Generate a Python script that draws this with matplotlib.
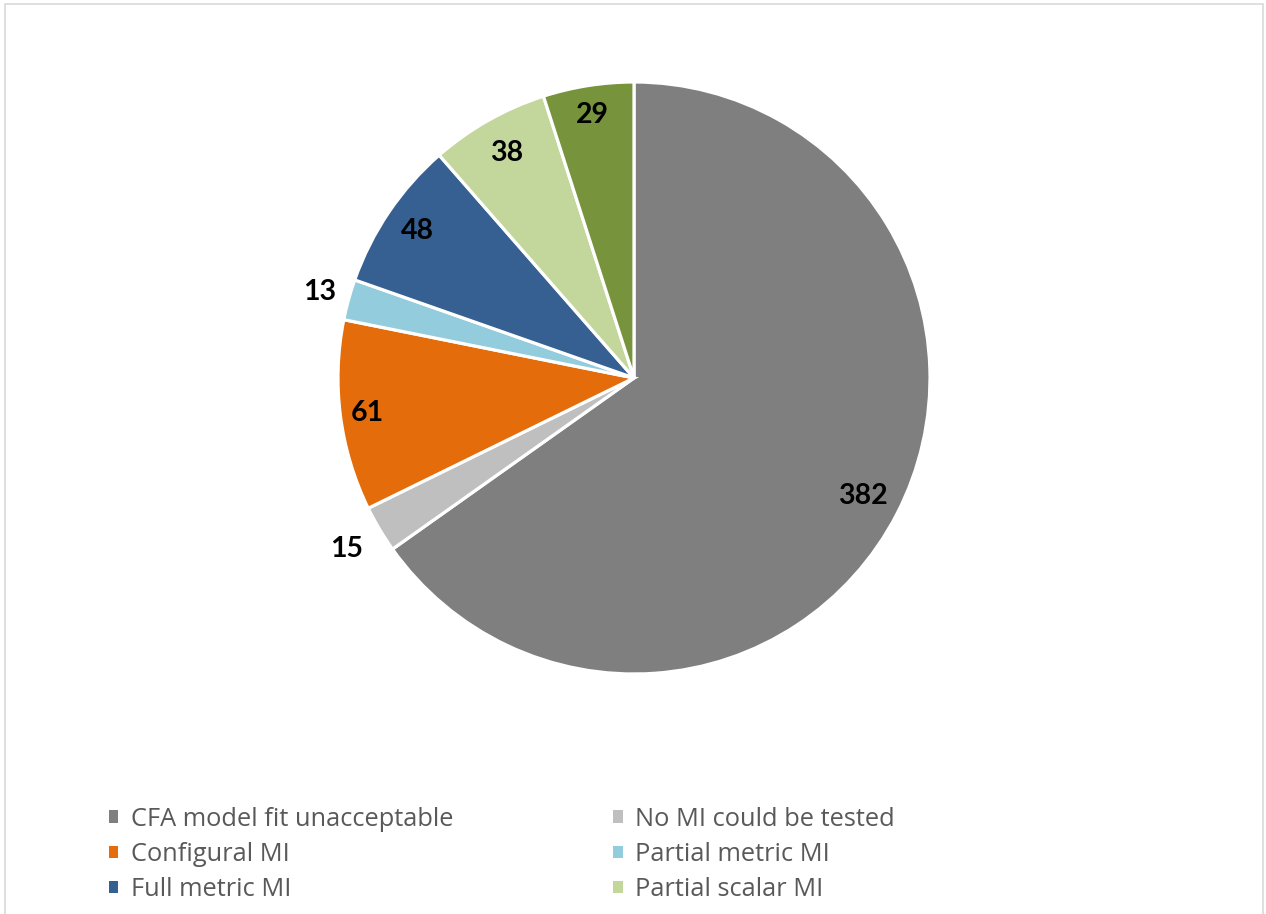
import numpy as np
import matplotlib
matplotlib.use("Agg")
import matplotlib.pyplot as plt
from matplotlib.patches import Patch, Rectangle

# Studies by measurement invariance outcome
categories = ["CFA model fit unacceptable", "No MI could be tested", "Configural MI",
              "Partial metric MI", "Full metric MI", "Partial scalar MI", "Full scalar MI"]
counts = [382, 15, 61, 13, 48, 38, 29]
colors = ["#7F7F7F", "#BFBFBF", "#E46C0A", "#93CDDD", "#366092", "#C3D69B", "#77933C"]
# how far out each count sits, as a share of the radius
label_dist = [0.87, 1.13, 0.91, 1.10, 0.885, 0.875, 0.90]

W, H = 1266, 914
fig = plt.figure(figsize=(W / 100, H / 100), dpi=100)
ax = fig.add_axes([0, 0, 1, 1])

cx, cy, r = 634, H - 378, 296
wedges, _ = ax.pie(counts, colors=colors, startangle=90, counterclock=False,
                   center=(cx, cy), radius=r,
                   wedgeprops=dict(edgecolor="white", linewidth=2.3))

for w, n, d in zip(wedges, counts, label_dist):
    mid = np.deg2rad((w.theta1 + w.theta2) / 2)
    ax.text(cx + d * r * np.cos(mid), cy + d * r * np.sin(mid), str(n),
            ha="center", va="center", fontsize=20.5, fontweight="bold",
            family="Lato", color="black")

ax.set_xlim(0, W)
ax.set_ylim(0, H)
ax.set_aspect("equal")
ax.axis("off")

# chart area border (bottom edge runs off the canvas)
fig.patches.append(Rectangle((5 / W, -0.05), (1263 - 5) / W, (H - 4) / H + 0.05,
                             transform=fig.transFigure, fill=False,
                             edgecolor="#D9D9D9", linewidth=1.2))

# legend filled row by row: reorder for matplotlib's column-major layout
order = [0, 2, 4, 1, 3, 5]
handles = [Patch(facecolor=colors[i], edgecolor="none") for i in order]
labels = [categories[i] for i in order]
fig.legend(handles, labels, ncol=2, loc="upper left",
           bbox_to_anchor=(96 / W, 1 - 794 / H), frameon=False,
           prop=dict(family="Open Sans", size=18.3), labelcolor="#595959",
           handlelength=0.38, handleheight=0.38, handletextpad=0.5,
           labelspacing=0.4, columnspacing=6.27, borderpad=0)

fig.savefig("out.png", dpi=100)
